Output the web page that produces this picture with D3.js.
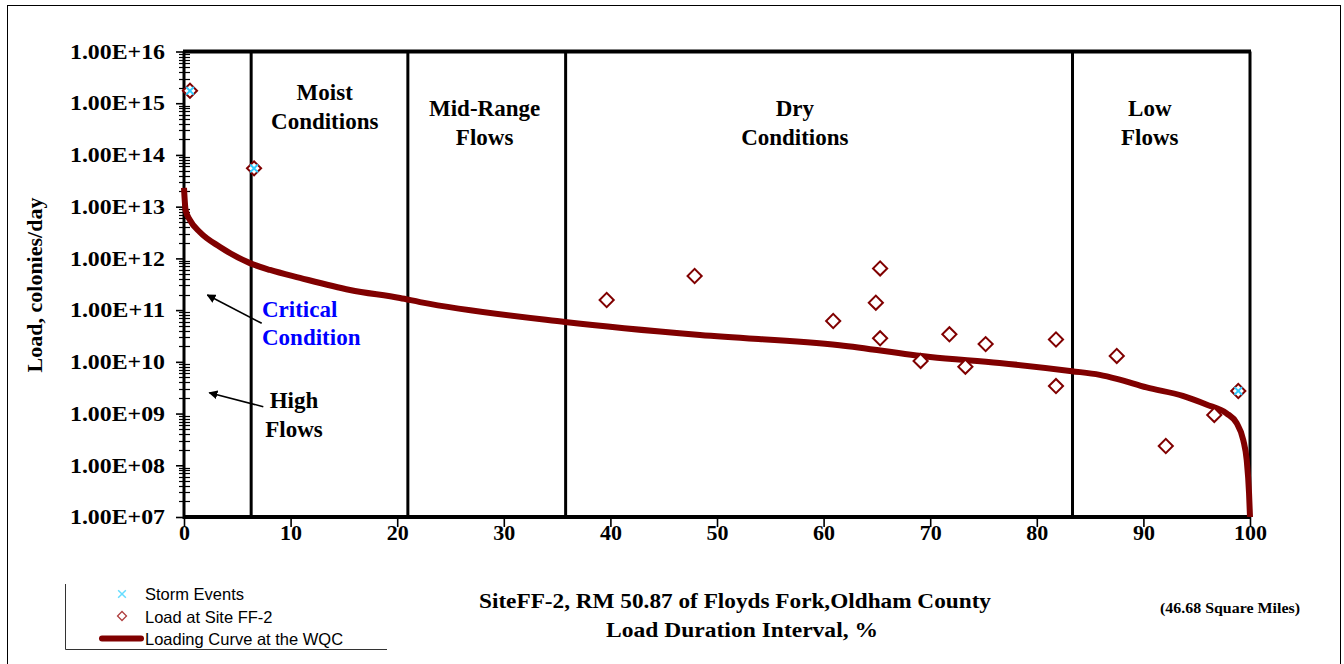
<!DOCTYPE html>
<html>
<head>
<meta charset="utf-8">
<script src="https://cdn.jsdelivr.net/npm/d3@7"></script>
<style>
  html, body { margin: 0; padding: 0; background: #fff; }
  svg { display: block; }
  .serif { font-family: "Liberation Serif", "Times New Roman", serif; font-weight: bold; }
  .sans { font-family: "Liberation Sans", Arial, sans-serif; }
</style>
</head>
<body>
<svg id="chart" width="1344" height="664"></svg>
<script>
// Loading curve at the water quality criterion (flow duration %, colonies/day)
const curvePct  = [0, 0.15, 0.56, 1.5, 3.38, 6.19, 8.07, 10.88, 15.57, 20.26, 22.14, 35.74, 48.4, 61.5, 70.0, 76.5, 83.3, 85.9, 87.5, 90.3, 93.7, 95.9, 97.8, 98.75, 99.37, 99.69, 99.91, 100];
const curveLoad = [2.3e13, 8.6e12, 5.5e12, 3.2e12, 1.66e12, 8.1e11, 5.97e11, 4.2e11, 2.45e11, 1.71e11, 1.43e11, 5.9e10, 3.3e10, 2.1e10, 1.24e10, 9.5e9, 6.6e9, 5.6e9, 4.7e9, 3.2e9, 2.2e9, 1.5e9, 1.01e9, 6.5e8, 3.08e8, 1.26e8, 2.9e7, 1e7];

// Measured loads at site FF-2
const samplePct  = [0.56, 6.57, 39.65, 47.9, 60.9, 65.3, 64.9, 65.3, 69.1, 71.8, 73.3, 75.2, 81.8, 81.8, 87.5, 92.1, 96.65, 98.9];
const sampleLoad = [1.74e15, 5.5e13, 1.57e11, 4.57e11, 6.15e10, 6.4e11, 1.39e11, 2.85e10, 1.04e10, 3.4e10, 8.05e9, 2.2e10, 2.7e10, 3.4e9, 1.3e10, 2.36e8, 9.4e8, 2.73e9];

// Samples taken during storm events
const stormPct  = [0.56, 6.57, 98.9];
const stormLoad = [1.74e15, 5.5e13, 2.73e9];

// Flow regime boundaries and their labels
const zoneBounds = [6.3, 21, 35.8, 83.35];
const zoneLabels = [
  { lines: ["Moist", "Conditions"], at: 13.2, top: true },
  { lines: ["Mid-Range", "Flows"], at: 28.2, top: false },
  { lines: ["Dry", "Conditions"], at: 57.3, top: false },
  { lines: ["Low", "Flows"], at: 90.6, top: false }
];

const xTicks = [0, 10, 20, 30, 40, 50, 60, 70, 80, 90, 100];
const yTicks = [1e7, 1e8, 1e9, 1e10, 1e11, 1e12, 1e13, 1e14, 1e15, 1e16];
const yTickLabels = ["1.00E+07", "1.00E+08", "1.00E+09", "1.00E+10", "1.00E+11", "1.00E+12", "1.00E+13", "1.00E+14", "1.00E+15", "1.00E+16"];

const svg = d3.select("#chart");
const maroon = "#800000";
const cyan = "#33ccff";

const x = d3.scaleLinear().domain([0, 100]).range([184, 1250]);
const y = d3.scaleLog().domain([1e7, 1e16]).range([517, 51.5]);

// outer frame
svg.append("rect").attr("x", 7.5).attr("y", 5.5).attr("width", 1333).attr("height", 660)
  .attr("fill", "none").attr("stroke", "#000").attr("stroke-width", 1);

// minor log ticks on the y axis
const minor = [];
for (let e = 7; e < 16; e++) for (let m = 2; m <= 9; m++) minor.push(m * Math.pow(10, e));
svg.append("g").selectAll("line").data(minor).join("line")
  .attr("x1", 179).attr("x2", 190)
  .attr("y1", d => Math.round(y(d)) + 0.5).attr("y2", d => Math.round(y(d)) + 0.5)
  .attr("stroke", "#000").attr("stroke-width", 1.2);

// major y ticks and labels
const yAxis = d3.axisLeft(y).tickValues(yTicks).tickSize(9).tickPadding(11)
  .tickFormat((d, i) => yTickLabels[i]);
const gy = svg.append("g").attr("transform", "translate(185,0)").call(yAxis);
gy.select(".domain").remove();
gy.selectAll(".tick line").attr("stroke-width", 1.6).attr("x2", -9);
gy.selectAll(".tick text").attr("class", "serif").attr("font-size", 21)
  .attr("textLength", 95).attr("lengthAdjust", "spacingAndGlyphs").attr("fill", "#000");

// x axis ticks and labels
const xAxis = d3.axisBottom(x).tickValues(xTicks).tickSize(10).tickPadding(-6);
const gx = svg.append("g").attr("transform", "translate(0,517)").call(xAxis);
gx.select(".domain").remove();
gx.selectAll(".tick line").attr("stroke-width", 1.6);
gx.selectAll(".tick text").attr("class", "serif").attr("font-size", 22).attr("fill", "#000")
  .attr("dy", "0.86em");

// flow regime dividers
svg.append("g").selectAll("line").data(zoneBounds).join("line")
  .attr("x1", d => x(d)).attr("x2", d => x(d)).attr("y1", y(1e16)).attr("y2", y(1e7))
  .attr("stroke", "#000").attr("stroke-width", 3);

// plot border: top, right, left axis, bottom axis
svg.append("line").attr("x1", x(0) - 1).attr("x2", x(100) + 1).attr("y1", y(1e16)).attr("y2", y(1e16))
  .attr("stroke", "#000").attr("stroke-width", 4);
svg.append("line").attr("x1", x(100)).attr("x2", x(100)).attr("y1", y(1e16)).attr("y2", y(1e7))
  .attr("stroke", "#000").attr("stroke-width", 3);
svg.append("line").attr("x1", x(0)).attr("x2", x(0)).attr("y1", y(1e16)).attr("y2", y(1e7) + 2)
  .attr("stroke", "#000").attr("stroke-width", 3);
svg.append("line").attr("x1", x(0) - 1).attr("x2", x(100) + 1).attr("y1", y(1e7)).attr("y2", y(1e7))
  .attr("stroke", "#000").attr("stroke-width", 4);

// zone labels
zoneLabels.forEach(z => {
  const t = svg.append("text").attr("class", "serif").attr("font-size", 23)
    .attr("text-anchor", "middle").attr("x", x(z.at)).attr("y", z.top ? 100 : 116);
  z.lines.forEach((s, i) => t.append("tspan").attr("x", x(z.at)).attr("dy", i ? 28.5 : 0).text(s));
});

// loading curve
const line = d3.line().x((d, i) => x(curvePct[i])).y((d, i) => y(curveLoad[i])).curve(d3.curveMonotoneX);
svg.append("path").datum(curveLoad).attr("d", line)
  .attr("fill", "none").attr("stroke", maroon).attr("stroke-width", 6).attr("stroke-linejoin", "round");

// sample diamonds
const diamond = d3.symbol().type(d3.symbolSquare).size(100);
svg.append("g").selectAll("path").data(sampleLoad).join("path")
  .attr("d", diamond)
  .attr("transform", (d, i) => `translate(${x(samplePct[i])},${y(d)}) rotate(45)`)
  .attr("fill", "#fff").attr("stroke", maroon).attr("stroke-width", 2);

// storm event crosses
const cross = d3.symbol().type(d3.symbolTimes).size(40);
svg.append("g").selectAll("path").data(stormLoad).join("path")
  .attr("d", cross)
  .attr("transform", (d, i) => `translate(${x(stormPct[i])},${y(d)})`)
  .attr("fill", "none").attr("stroke", cyan).attr("stroke-width", 2);

// annotations with arrows
svg.append("defs").append("marker").attr("id", "arrow").attr("viewBox", "0 0 10 10")
  .attr("refX", 9).attr("refY", 5).attr("markerWidth", 9).attr("markerHeight", 9)
  .attr("markerUnits", "userSpaceOnUse").attr("orient", "auto")
  .append("path").attr("d", "M0,0 L10,5 L0,10 z").attr("fill", "#000");
[[261.7, 323.3, 207.3, 295], [263.3, 406.7, 209.3, 392.7]].forEach(a => {
  svg.append("line").attr("x1", a[0]).attr("y1", a[1]).attr("x2", a[2]).attr("y2", a[3])
    .attr("stroke", "#000").attr("stroke-width", 1.6).attr("marker-end", "url(#arrow)");
});
const crit = svg.append("text").attr("class", "serif").attr("font-size", 23).attr("fill", "#0000ff");
crit.append("tspan").attr("x", 262).attr("y", 317).text("Critical");
crit.append("tspan").attr("x", 262).attr("y", 345).text("Condition");
const high = svg.append("text").attr("class", "serif").attr("font-size", 23).attr("fill", "#000")
  .attr("text-anchor", "middle");
high.append("tspan").attr("x", 294).attr("y", 408).text("High");
high.append("tspan").attr("x", 294).attr("y", 437).text("Flows");

// y axis title
svg.append("text").attr("class", "serif").attr("font-size", 22).attr("text-anchor", "middle")
  .attr("transform", "translate(42,285) rotate(-90)").text("Load, colonies/day");

// x axis titles
svg.append("text").attr("class", "serif").attr("font-size", 22).attr("text-anchor", "middle")
  .attr("x", 735).attr("y", 608).attr("textLength", 512).attr("lengthAdjust", "spacingAndGlyphs")
  .text("SiteFF-2, RM 50.87 of Floyds Fork,Oldham  County");
svg.append("text").attr("class", "serif").attr("font-size", 22).attr("text-anchor", "middle")
  .attr("x", 742).attr("y", 637).attr("textLength", 272).attr("lengthAdjust", "spacingAndGlyphs")
  .text("Load Duration Interval, %");
svg.append("text").attr("class", "serif").attr("font-size", 14).attr("text-anchor", "middle")
  .attr("x", 1230).attr("y", 613).attr("textLength", 140).attr("lengthAdjust", "spacingAndGlyphs")
  .text("(46.68 Square Miles)");

// legend
const lg = svg.append("g");
lg.append("path").attr("d", "M65.5,584 V649.5 H387").attr("fill", "none").attr("stroke", "#333").attr("stroke-width", 1);
lg.append("path").attr("d", d3.symbol().type(d3.symbolTimes).size(40)())
  .attr("transform", "translate(122,594)").attr("fill", "none").attr("stroke", "#66ddff").attr("stroke-width", 1.5);
lg.append("path").attr("d", d3.symbol().type(d3.symbolSquare).size(40)())
  .attr("transform", "translate(122,616) rotate(45)").attr("fill", "#fff").attr("stroke", "#b04040").attr("stroke-width", 1.3);
lg.append("line").attr("x1", 102).attr("x2", 141).attr("y1", 638.5).attr("y2", 638.5)
  .attr("stroke", maroon).attr("stroke-width", 6).attr("stroke-linecap", "round");
const legendText = ["Storm Events", "Load at Site FF-2", "Loading Curve at the WQC"];
lg.selectAll("text").data(legendText).join("text").attr("class", "sans").attr("font-size", 16.5)
  .attr("x", 145).attr("y", (d, i) => 600 + i * 22.5).text(d => d);
</script>
</body>
</html>
